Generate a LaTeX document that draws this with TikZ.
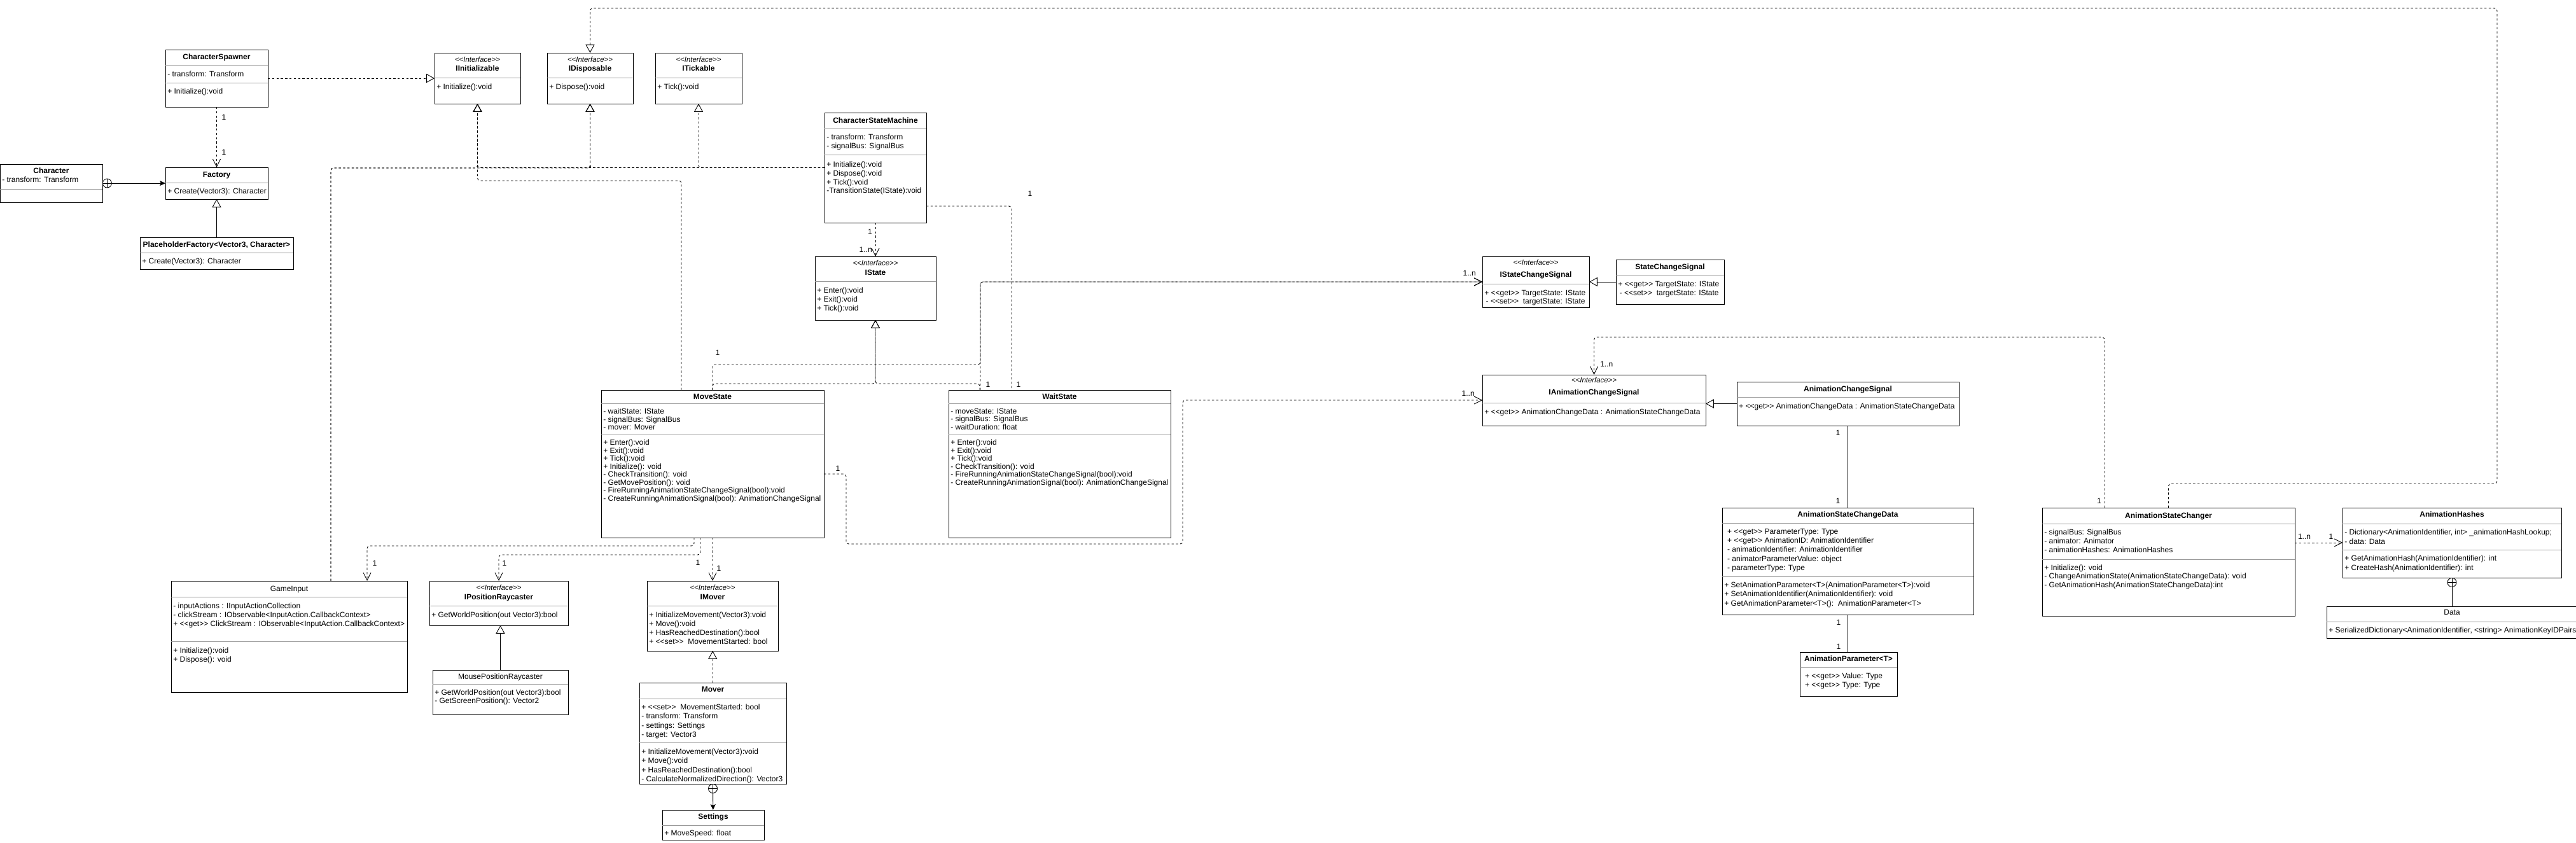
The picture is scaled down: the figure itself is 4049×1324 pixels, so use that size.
\documentclass[tikz,border=0pt]{standalone}
\usepackage{fontspec}
\setmainfont{Liberation Sans}
\usetikzlibrary{arrows.meta}

\newcommand{\fs}{\fontsize{8.54}{10}\selectfont}
\newcommand{\stereo}[1]{<\kern0pt<#1>\kern0pt>}
\newcommand{\umlclass}[5]{\node[cls, minimum width={(#4-#2)*0.25mm}, minimum height={(#5-#3)*0.25mm}] (#1) at (#2,#3) {};}
\newcommand{\umlsep}[2]{\draw[sep] (#1.west |- 0,#2) -- (#1.east |- 0,#2);}

\begin{document}
\begin{tikzpicture}[
  x=0.25mm, y=-0.25mm,
  cls/.style={draw, line width=0.22mm, fill=white, inner sep=0pt, outer sep=0pt, anchor=north west},
  sep/.style={draw=black!40, line width=0.22mm},
  ttl/.style={font=\fs\bfseries, anchor=base, inner sep=0pt},
  ttlr/.style={font=\fs, anchor=base, inner sep=0pt},
  ster/.style={font=\fontsize{8.1}{9}\selectfont\itshape, anchor=base, inner sep=0pt},
  mem/.style={font=\fontsize{8.54}{#1}\selectfont, align=left, anchor=north west, inner sep=0pt, xshift=0.75mm},
  mem/.default=9.9,
  lbl/.style={font=\fs, inner sep=0pt},
  nest/.style={circle, draw, line width=0.22mm, fill=white, minimum size=3.5mm, inner sep=0pt,
    path picture={\draw[line width=0.22mm] (path picture bounding box.north) -- (path picture bounding box.south)
      (path picture bounding box.west) -- (path picture bounding box.east);}},
  conn/.style={line width=0.22mm, rounded corners=1mm},
  dep/.style={conn, dash pattern=on 0.85mm off 0.85mm, -{Straight Barb[length=3mm, width=3mm]}},
  real/.style={conn, dash pattern=on 0.85mm off 0.85mm, -{Triangle[open, length=3.2mm, width=3.5mm]}},
  gen/.style={conn, -{Triangle[open, length=3.2mm, width=3.5mm]}},
  asc/.style={conn, -{Stealth[length=2.2mm, width=2mm, inset=0.4mm]}},
  lnk/.style={conn, dash pattern=on 0.85mm off 0.85mm},
  plain/.style={conn}]
\useasboundingbox (0,0) rectangle (4049,1324);

% spawning
\umlclass{chr}{0}{258}{161}{318}
\node[ttl] at (chr.north |- 0,272) {Character};
\node[mem] at (chr.west |- 0,277.5) {- transform: Transform};
\umlsep{chr}{297}

\umlclass{csp}{260}{78}{421}{168}
\node[ttl] at (csp.north |- 0,93) {CharacterSpawner};
\umlsep{csp}{102}
\node[mem] at (csp.west |- 0,111.5) {- transform: Transform};
\umlsep{csp}{130}
\node[mem] at (csp.west |- 0,138.5) {+ Initialize():void};

\umlclass{fac}{260}{263}{421}{313}
\node[ttl] at (fac.north |- 0,278) {Factory};
\umlsep{fac}{287}
\node[mem] at (fac.west |- 0,295.5) {+ Create(Vector3): Character};

\umlclass{phf}{220}{373}{461}{423}
\node[ttl] at (phf.north |- 0,388) {PlaceholderFactory<Vector3, Character>};
\umlsep{phf}{397}
\node[mem] at (phf.west |- 0,405.5) {+ Create(Vector3): Character};

% lifecycle interfaces
\umlclass{iini}{683}{83}{818}{163}
\node[ster] at (iini.north |- 0,97.5) {\stereo{Interface}};
\node[ttl] at (iini.north |- 0,111) {IInitializable};
\umlsep{iini}{122}
\node[mem] at (iini.west |- 0,131.5) {+ Initialize():void};

\umlclass{idis}{860}{83}{995}{163}
\node[ster] at (idis.north |- 0,97.5) {\stereo{Interface}};
\node[ttl] at (idis.north |- 0,111) {IDisposable};
\umlsep{idis}{122}
\node[mem] at (idis.west |- 0,131.5) {+ Dispose():void};

\umlclass{itic}{1030}{83}{1166}{163}
\node[ster] at (itic.north |- 0,97.5) {\stereo{Interface}};
\node[ttl] at (itic.north |- 0,111) {ITickable};
\umlsep{itic}{122}
\node[mem] at (itic.west |- 0,131.5) {+ Tick():void};

% state machine
\umlclass{csm}{1296}{177}{1456}{350}
\node[ttl] at (csm.north |- 0,193) {CharacterStateMachine};
\umlsep{csm}{202}
\node[mem=10] at (csm.west |- 0,210.5) {- transform: Transform\\- signalBus: SignalBus};
\umlsep{csm}{243}
\node[mem=9.8] at (csm.west |- 0,253.5) {+ Initialize():void\\+ Dispose():void\\+ Tick():void\\-TransitionState(IState):void};

\umlclass{ist}{1281}{403}{1471}{503}
\node[ster] at (ist.north |- 0,417.5) {\stereo{Interface}};
\node[ttl] at (ist.north |- 0,432) {IState};
\umlsep{ist}{442}
\node[mem] at (ist.west |- 0,451.5) {+ Enter():void\\+ Exit():void\\+ Tick():void};

\umlclass{ms}{945}{613}{1295}{845}
\node[ttl] at (ms.north |- 0,627) {MoveState};
\umlsep{ms}{634}
\node[mem=8.9] at (ms.west |- 0,641.5) {- waitState: IState\\- signalBus: SignalBus\\- mover: Mover};
\umlsep{ms}{683}
\node[mem=8.9] at (ms.west |- 0,690.5) {+ Enter():void\\+ Exit():void\\+ Tick():void\\+ Initialize(): void\\- CheckTransition(): void\\- GetMovePosition(): void\\- FireRunningAnimationStateChangeSignal(bool):void\\- CreateRunningAnimationSignal(bool): AnimationChangeSignal};

\umlclass{ws}{1491}{613}{1840}{845}
\node[ttl] at (ws.north |- 0,627) {WaitState};
\umlsep{ws}{634}
\node[mem=8.9] at (ws.west |- 0,641.5) {- moveState: IState\\- signalBus: SignalBus\\- waitDuration: float};
\umlsep{ws}{683}
\node[mem=8.9] at (ws.west |- 0,690.5) {+ Enter():void\\+ Exit():void\\+ Tick():void\\- CheckTransition(): void\\- FireRunningAnimationStateChangeSignal(bool):void\\- CreateRunningAnimationSignal(bool): AnimationChangeSignal};

% signals
\umlclass{isc}{2330}{403}{2498}{483}
\node[ster] at (isc.north |- 0,416.5) {\stereo{Interface}};
\node[ttl] at (isc.north |- 0,435) {IStateChangeSignal};
\umlsep{isc}{446}
\node[mem=9.6] at (isc.west |- 0,455.5) {+ \stereo{get} TargetState: IState\\\hspace*{0.6mm}- \stereo{set}\ \ targetState: IState};

\umlclass{scs}{2540}{408}{2710}{478}
\node[ttl] at (scs.north |- 0,423) {StateChangeSignal};
\umlsep{scs}{432}
\node[mem] at (scs.west |- 0,441.5) {+ \stereo{get} TargetState: IState\\\hspace*{0.6mm}- \stereo{set}\ \ targetState: IState};

\umlclass{iac}{2330}{589}{2681}{669}
\node[ster] at (iac.north |- 0,601.5) {\stereo{Interface}};
\node[ttl] at (iac.north |- 0,620) {IAnimationChangeSignal};
\umlsep{iac}{633}
\node[mem] at (iac.west |- 0,642.5) {+ \stereo{get} AnimationChangeData : AnimationStateChangeData};

\umlclass{acs}{2730}{600}{3079}{669}
\node[ttl] at (acs.north |- 0,615) {AnimationChangeSignal};
\umlsep{acs}{624}
\node[mem] at (acs.west |- 0,633.5) {+ \stereo{get} AnimationChangeData : AnimationStateChangeData};

\umlclass{ascd}{2707}{798}{3102}{966}
\node[ttl] at (ascd.north |- 0,812) {AnimationStateChangeData};
\umlsep{ascd}{822}
\node[mem=10.2, xshift=1.2mm] at (ascd.west |- 0,830.5) {+ \stereo{get} ParameterType: Type\\+ \stereo{get} AnimationID: AnimationIdentifier\\- animationIdentifier: AnimationIdentifier\\- animatorParameterValue: object\\- parameterType: Type};
\umlsep{ascd}{906}
\node[mem=10.2] at (ascd.west |- 0,914.5) {+ SetAnimationParameter<T>(AnimationParameter<T>):void\\+ SetAnimationIdentifier(AnimationIdentifier): void\\+ GetAnimationParameter<T>():\ \ AnimationParameter<T>};

\umlclass{apar}{2829}{1025}{2982}{1094}
\node[ttl] at (apar.north |- 0,1039) {AnimationParameter<T>};
\umlsep{apar}{1049}
\node[mem=10.3, xshift=1.2mm] at (apar.west |- 0,1057.5) {+ \stereo{get} Value: Type\\+ \stereo{get} Type: Type};

\umlclass{asc}{3210}{798}{3607}{968}
\node[ttl] at (asc.north |- 0,814) {AnimationStateChanger};
\umlsep{asc}{823}
\node[mem] at (asc.west |- 0,831.5) {- signalBus: SignalBus\\- animator: Animator\\- animationHashes: AnimationHashes};
\umlsep{asc}{879}
\node[mem=9.5] at (asc.west |- 0,887.5) {+ Initialize(): void\\- ChangeAnimationState(AnimationStateChangeData): void\\- GetAnimationHash(AnimationStateChangeData):int};

\umlclass{ah}{3682}{798}{4026}{908}
\node[ttl] at (ah.north |- 0,812) {AnimationHashes};
\umlsep{ah}{823}
\node[mem=10.5] at (ah.west |- 0,831.5) {- Dictionary<AnimationIdentifier, int> \_animationHashLookup;\\- data: Data};
\umlsep{ah}{864}
\node[mem=10.5] at (ah.west |- 0,872.5) {+ GetAnimationHash(AnimationIdentifier): int\\+ CreateHash(AnimationIdentifier): int};

\umlclass{dat}{3657}{953}{4051}{1003}
\node[ttlr] at (dat.north |- 0,966) {Data};
\umlsep{dat}{977}
\node[mem] at (dat.west |- 0,985.5) {+ SerializedDictionary<AnimationIdentifier, <string> AnimationKeyIDPairs};

% input and movement
\umlclass{gin}{269}{913}{640}{1088}
\node[ttlr] at (gin.north |- 0,929) {GameInput};
\umlsep{gin}{938}
\node[mem] at (gin.west |- 0,947.5) {- inputActions : IInputActionCollection\\- clickStream : IObservable<InputAction.CallbackContext>\\+ \stereo{get} ClickStream : IObservable<InputAction.CallbackContext>};
\umlsep{gin}{1008}
\node[mem] at (gin.west |- 0,1017.5) {+ Initialize():void\\+ Dispose(): void};

\umlclass{ipr}{675}{913}{893}{983}
\node[ster] at (ipr.north |- 0,927.5) {\stereo{Interface}};
\node[ttl] at (ipr.north |- 0,942) {IPositionRaycaster};
\umlsep{ipr}{952}
\node[mem] at (ipr.west |- 0,961.5) {+ GetWorldPosition(out Vector3):bool};

\umlclass{mpr}{680}{1053}{893}{1123}
\node[ttlr] at (mpr.north |- 0,1067) {MousePositionRaycaster};
\umlsep{mpr}{1075}
\node[mem=9.6] at (mpr.west |- 0,1083.5) {+ GetWorldPosition(out Vector3):bool\\- GetScreenPosition(): Vector2};

\umlclass{imv}{1017}{913}{1223}{1023}
\node[ster] at (imv.north |- 0,927.5) {\stereo{Interface}};
\node[ttl] at (imv.north |- 0,942) {IMover};
\umlsep{imv}{952}
\node[mem] at (imv.west |- 0,961.5) {+ InitializeMovement(Vector3):void\\+ Move():void\\+ HasReachedDestination():bool\\+ \stereo{set}\ \ MovementStarted: bool};

\umlclass{mov}{1005}{1073}{1236}{1232}
\node[ttl] at (mov.north |- 0,1087) {Mover};
\umlsep{mov}{1098}
\node[mem=10.2] at (mov.west |- 0,1106.5) {+ \stereo{set}\ \ MovementStarted: bool\\- transform: Transform\\- settings: Settings\\- target: Vector3};
\umlsep{mov}{1167}
\node[mem=10.2] at (mov.west |- 0,1176.5) {+ InitializeMovement(Vector3):void\\+ Move():void\\+ HasReachedDestination():bool\\- CalculateNormalizedDirection(): Vector3};

\umlclass{set}{1041}{1273}{1201}{1320}
\node[ttl] at (set.north |- 0,1287) {Settings};
\umlsep{set}{1297}
\node[mem] at (set.west |- 0,1304.5) {+ MoveSpeed: float};

% connectors: spawning
\draw[gen] (phf) -- (fac);
\draw[dep] (csp) -- (fac);
\node[lbl] at (352,184) {1};
\node[lbl] at (352,239) {1};
\node[nest, anchor=west] (chrnest) at (chr.east) {};
\draw[asc] (chrnest) -- (fac);
\draw[real] (csp) -- (iini);

% connectors: lifecycle
\draw[real] (csm.west) -| (iini.south);
\draw[real] (csm.west) -| (idis.south);
\draw[real] (csm.west) -| (itic.south);
\draw[real] (gin.north -| 520,0) |- (700,264) -| (iini.south);
\draw[real] (gin.north -| 520,0) |- (800,264) -| (idis.south);
\draw[real] (ms.north -| 1071,0) |- (900,284) -| (iini.south);
\draw[real] (asc.north) |- (3925,760) -- (3925,13) -| (idis.north);

% connectors: states
\draw[dep] (csm) -- (ist);
\node[lbl, anchor=east] at (1371,364) {1};
\node[lbl, anchor=east] at (1371,392) {1..n};
\draw[lnk] (csm.east |- 0,324) -| (ws.north -| 1590,0);
\node[lbl] at (1619,304) {1};
\node[lbl] at (1601,604) {1};
\draw[real] (ms.north -| 1120,0) |- (1300,603) -| (ist.south);
\draw[real] (ws.north -| 1540,0) |- (1450,603) -| (ist.south);
\draw[dep] (ms.north -| 1120,0) |- (1541,573) |- (isc.west);
\draw[dep] (ws.north -| 1541,0) |- (isc.west);
\node[lbl] at (1128,554) {1};
\node[lbl] at (1553,604) {1};
\node[lbl, anchor=east] at (2320,429) {1..n};
\draw[gen] (scs.west) -- (scs.west -| isc.east);

% connectors: animation
\draw[dep] (ms.east |- 0,745) -| (1330,855) -| (iac.west -| 1859,0) -- (iac.west);
\node[lbl] at (1317,736) {1};
\node[lbl, anchor=east] at (2318,618) {1..n};
\draw[gen] (acs.west) -- (acs.west -| iac.east);
\draw[plain] (acs) -- (ascd);
\node[lbl] at (2889,680) {1};
\node[lbl] at (2889,787) {1};
\draw[plain] (ascd.south) -- (ascd.south |- apar.north);
\node[lbl] at (2890,978) {1};
\node[lbl] at (2890,1016) {1};
\draw[dep] (asc.north -| 3308,0) |- (2600,530) -| (iac.north);
\node[lbl, anchor=east] at (3303,787) {1};
\node[lbl, anchor=west] at (2515,572) {1..n};
\draw[dep] (asc.east |- ah.west) -- (ah.west);
\node[lbl] at (3622,843) {1..n};
\node[lbl] at (3664,843) {1};
\node[nest, anchor=north] (ahnest) at (ah.south) {};
\draw[plain] (ahnest) -- (dat);

% connectors: input and movement
\draw[dep] (ms.south -| 1091,0) |- (700,858) -| (gin.north -| 577,0);
\draw[dep] (ms.south -| 1101,0) |- (900,872) -| (ipr.north);
\draw[dep] (ms) -- (imv);
\node[lbl] at (589,885) {1};
\node[lbl] at (793,885) {1};
\node[lbl] at (1097,884) {1};
\node[lbl] at (1130,893) {1};
\draw[real] (mov) -- (imv);
\node[nest, anchor=north] (movnest) at (mov.south) {};
\draw[asc] (movnest) -- (set);
\draw[gen] (mpr.north) -- (mpr.north |- ipr.south);
\end{tikzpicture}
\end{document}
